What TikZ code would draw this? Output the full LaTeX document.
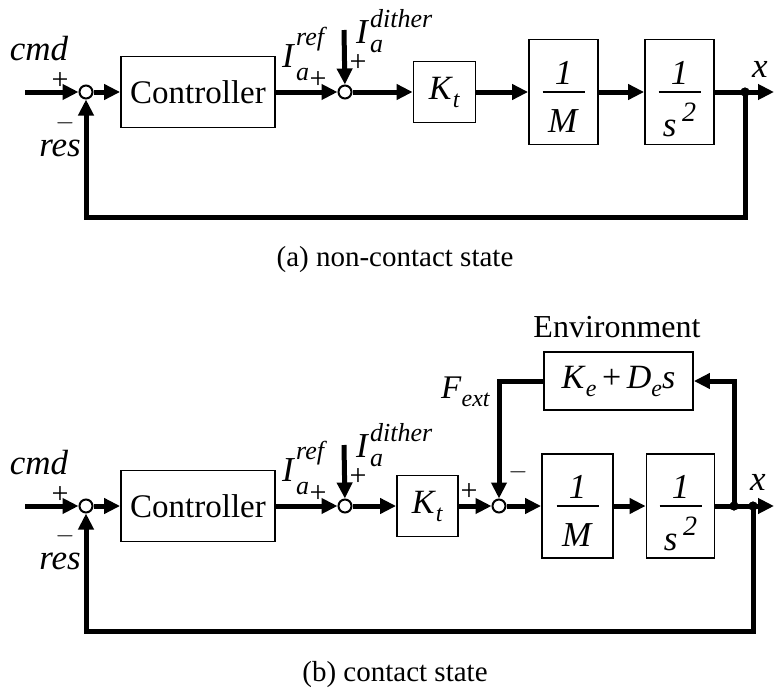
\documentclass[tikz,border=0pt]{standalone}
\usepackage{fontspec}
\usepackage{amsmath}
\setmainfont{Liberation Serif}
\usetikzlibrary{arrows.meta}
\newcommand{\vi}[1]{\textit{#1}}
% main letter, raise of superscript, superscript, drop of subscript, subscript
\newcommand{\lab}[5]{\vi{#1}\kern1pt\rlap{\raisebox{-#4}{\fontsize{26}{28}\selectfont\vi{#5}}}\raisebox{#2}{\fontsize{26}{28}\selectfont\vi{#3}}}
\newcommand{\subl}[2]{\vi{#1}\raisebox{-8pt}{\fontsize{24}{26}\selectfont\vi{#2}}}
\begin{document}
\begin{tikzpicture}[x=1pt,y=-1pt,
  sig/.style={line width=5pt,-{Triangle[length=16pt,width=15pt]}},
  blk/.style={draw,line width=1.8pt,inner sep=0pt,font=\fontsize{34}{38}\selectfont},
  sumpt/.style={circle,draw,line width=2pt,fill=white,minimum size=13pt,inner sep=0pt},
  jdot/.style={circle,fill=black,minimum size=9pt,inner sep=0pt},
  lbl/.style={inner sep=0pt,font=\fontsize{35}{38}\selectfont},
  sgn/.style={inner sep=0pt,font=\fontsize{30}{32}\selectfont},
  captxt/.style={inner sep=0pt,font=\fontsize{29}{32}\selectfont}]
\useasboundingbox (0,0) rectangle (774,688);

% ---------------- (a) non-contact state ----------------
\coordinate (inA) at (25,92);
\node[sumpt] (s1A) at (86,92) {};
\node[blk,minimum width=154pt,minimum height=71pt,font=\fontsize{33}{36}\selectfont] (ctrlA) at (198,92) {Controller};
\node[sumpt] (s2A) at (345,92) {};
\coordinate (dtA) at (344,30);
\node[blk,minimum width=62pt,minimum height=61pt] (ktA) at (444.5,92) {\subl{K}{t}};
\node[blk,minimum width=69pt,minimum height=105pt] (mA) at (563.5,92) {};
\node[blk,minimum width=69pt,minimum height=105pt] (sA) at (679.5,92) {};
\node[jdot] (jA) at (745,92) {};
\coordinate (outA) at (774,92);
\coordinate (fbA1) at (745,217);
\coordinate (fbA2) at (86,217);

\node[lbl,anchor=base] (mAn) at (563.5,84) {\vi{1}};
\node[lbl,anchor=base] (mAd) at (563.5,132) {\vi{M}};
\draw[line width=1.6pt] ([xshift=-21pt]mA.center) -- ([xshift=21pt]mA.center);
\node[lbl,anchor=base] (sAn) at (679.5,84) {\vi{1}};
\node[lbl,anchor=base] (sAd) at (679.5,136) {\vi{s}\,\raisebox{15pt}{\fontsize{28}{30}\selectfont\vi{2}}};
\draw[line width=1.6pt] ([xshift=-21pt]sA.center) -- ([xshift=21pt]sA.center);

\draw[sig] (inA) -- (s1A);
\draw[sig] (s1A) -- (ctrlA);
\draw[sig] (ctrlA) -- (s2A);
\draw[sig] (dtA) -- (s2A);
\draw[sig] (s2A) -- (ktA);
\draw[sig] (ktA) -- (mA);
\draw[sig] (mA) -- (sA);
\draw[sig] (sA) -- (outA);
\draw[sig] (jA.center) -- (fbA1) -- (fbA2) -- (s1A);
\node[jdot] at (jA) {};

\node[lbl] (cmdA) at (39,49) {\vi{cmd}};
\node[sgn] (p1A) at (60,81) {+};
\node[sgn] (n1A) at (65,123) {$-$};
\node[lbl] (resA) at (60,148) {\vi{res}};
\node[lbl,anchor=base west] (irA) at (282,67) {\lab{I}{22pt}{ref}{13pt}{a}};
\node[sgn] (p2A) at (318,80) {+};
\node[lbl,anchor=base west] (idA) at (356,43) {\lab{I}{16pt}{dither}{9pt}{a}};
\node[sgn] (p3A) at (358,63) {+};
\node[lbl] (xA) at (760,69) {\vi{x}};
\node[captxt] (capA) at (395,260) {(a) non-contact state};

% ---------------- (b) contact state ----------------
\coordinate (inB) at (25,506);
\node[sumpt] (s1B) at (86,506) {};
\node[blk,minimum width=154pt,minimum height=71pt,font=\fontsize{33}{36}\selectfont] (ctrlB) at (198,506) {Controller};
\node[sumpt] (s2B) at (345,506) {};
\coordinate (dtB) at (344,445);
\node[blk,minimum width=61pt,minimum height=61pt] (ktB) at (427.5,506) {\subl{K}{t}};
\node[sumpt] (s3B) at (499,506) {};
\node[blk,minimum width=71pt,minimum height=104pt] (mB) at (577.5,506) {};
\node[blk,minimum width=68pt,minimum height=104pt] (sB) at (680.5,506) {};
\node[jdot] (j1B) at (734,506) {};
\node[jdot] (j2B) at (753,506) {};
\coordinate (outB) at (774,506);
\coordinate (fbB1) at (753,631);
\coordinate (fbB2) at (86,631);
\node[blk,minimum width=149pt,minimum height=58pt] (envB) at (618.5,381) {\subl{K}{e}\,+\,\subl{D}{e}\vi{s}};

\node[lbl,anchor=base] (mBn) at (577.5,498) {\vi{1}};
\node[lbl,anchor=base] (mBd) at (577.5,546) {\vi{M}};
\draw[line width=1.6pt] ([xshift=-21pt]mB.center) -- ([xshift=21pt]mB.center);
\node[lbl,anchor=base] (sBn) at (680.5,498) {\vi{1}};
\node[lbl,anchor=base] (sBd) at (680.5,550) {\vi{s}\,\raisebox{15pt}{\fontsize{28}{30}\selectfont\vi{2}}};
\draw[line width=1.6pt] ([xshift=-21pt]sB.center) -- ([xshift=21pt]sB.center);

\draw[sig] (inB) -- (s1B);
\draw[sig] (s1B) -- (ctrlB);
\draw[sig] (ctrlB) -- (s2B);
\draw[sig] (dtB) -- (s2B);
\draw[sig] (s2B) -- (ktB);
\draw[sig] (ktB) -- (s3B);
\draw[sig] (s3B) -- (mB);
\draw[sig] (mB) -- (sB);
\draw[sig] (sB) -- (outB);
\draw[sig] (j1B.center) |- (envB.east);
\draw[sig] (envB.west) -| (s3B);
\draw[sig] (j2B.center) -- (fbB1) -- (fbB2) -- (s1B);
\node[jdot] at (j1B) {};
\node[jdot] at (j2B) {};

\node[lbl] (cmdB) at (39,463) {\vi{cmd}};
\node[sgn] (p1B) at (60,495) {+};
\node[sgn] (n1B) at (65,536) {$-$};
\node[lbl] (resB) at (60,561) {\vi{res}};
\node[lbl,anchor=base west] (irB) at (282,481) {\lab{I}{22pt}{ref}{13pt}{a}};
\node[sgn] (p2B) at (318,494) {+};
\node[lbl,anchor=base west] (idB) at (356,457) {\lab{I}{16pt}{dither}{9pt}{a}};
\node[sgn] (p3B) at (358,477) {+};
\node[sgn] (p4B) at (469,492) {+};
\node[sgn] (n3B) at (518,472) {$-$};
\node[lbl,anchor=base west,font=\fontsize{33}{36}\selectfont] (fxB) at (441,398) {\subl{F}{ext}};
\node[lbl,font=\fontsize{32}{36}\selectfont] (envL) at (617,327) {Environment};
\node[lbl] (xB) at (758,482) {\vi{x}};
\node[captxt] (capB) at (395,675) {(b) contact state};
\end{tikzpicture}
\end{document}
